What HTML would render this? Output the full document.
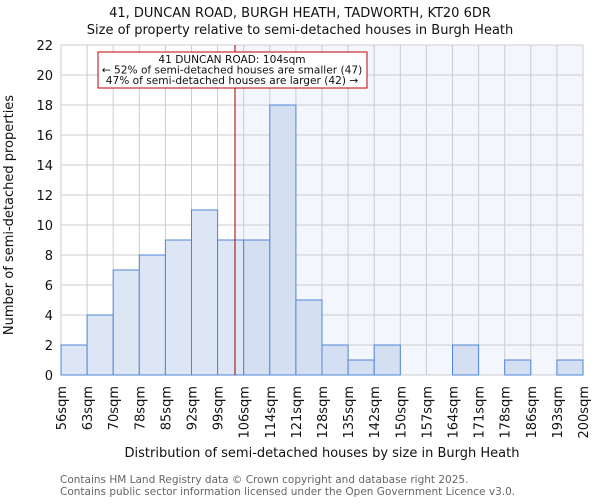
<!DOCTYPE html>
<html><head><meta charset="utf-8"><style>
body{margin:0;background:#fff;font-family:"DejaVu Sans","Liberation Sans",sans-serif}
</style></head><body>
<svg id="c" width="600" height="500" xmlns="http://www.w3.org/2000/svg" font-family="DejaVu Sans, Liberation Sans, sans-serif"></svg>
<script>
const categories=["56sqm","63sqm","70sqm","78sqm","85sqm","92sqm","99sqm","106sqm","114sqm","121sqm","128sqm","135sqm","142sqm","150sqm","157sqm","164sqm","171sqm","178sqm","186sqm","193sqm","200sqm"];
const counts=[2,4,7,8,9,11,9,9,18,5,2,1,2,0,0,2,0,1,0,1];
const yTicks=[0,2,4,6,8,10,12,14,16,18,20,22];
const subjectSize=104;
const minSize=56, maxSize=200;
const X0=61,X1=583,Y0=375,Y1=45,YMAX=22;
const svg=document.getElementById('c');
const NS='http://www.w3.org/2000/svg';
function xBin(i){return X0+(X1-X0)*i/counts.length;}
function xVal(v){return X0+(X1-X0)*(v-minSize)/(maxSize-minSize);}
function y(v){return Y0-(Y0-Y1)*v/YMAX;}
function el(t,a,p){const e=document.createElementNS(NS,t);for(const k in a)e.setAttribute(k,a[k]);(p||svg).appendChild(e);return e;}
const sx=xVal(subjectSize);
let r=el('rect',{x:sx,y:Y1,width:X1-sx,height:Y0-Y1,fill:'#f3f6fd'});


for(let i=0;i<=counts.length;i++){let l=el('line',{x1:xBin(i),x2:xBin(i),y1:Y1,y2:Y0,stroke:'#cccccc','stroke-width':1});

}
yTicks.forEach(t=>{let l=el('line',{x1:X0,x2:X1,y1:y(t),y2:y(t),stroke:'#cccccc','stroke-width':1});


let tx=el('text',{x:X0-8,y:y(t)+5,'text-anchor':'end','font-size':13,fill:'#111'});tx.textContent=t;

});
counts.forEach((c,i)=>{if(c<=0)return;const mid=(xBin(i)+xBin(i+1))/2;
let b=el('rect',{x:xBin(i),y:y(c),width:xBin(i+1)-xBin(i),height:Y0-y(c),fill:mid>sx?'#d4e0f2':'#dce6f4',stroke:'#4f86d6','stroke-width':1});

});
categories.forEach((c,i)=>{const x=xBin(i);let t=el('text',{x:x+5,y:386,'text-anchor':'end','font-size':13,fill:'#111',transform:`rotate(-90 ${x+5} 386)`});t.textContent=c;

});
let ml=el('line',{x1:sx,x2:sx,y1:Y1,y2:Y0,stroke:'#a00000','stroke-width':1});


</script>
<svg width="600" height="500" style="position:absolute;left:0;top:0" font-family="DejaVu Sans, Liberation Sans, sans-serif">
<text x="300" y="17" text-anchor="middle" font-size="13" fill="#111">41, DUNCAN ROAD, BURGH HEATH, TADWORTH, KT20 6DR</text>
<text x="300" y="34" text-anchor="middle" font-size="13" fill="#111">Size of property relative to semi-detached houses in Burgh Heath</text>
<rect x="98" y="52" width="269" height="36" fill="#fff" stroke="#c00000" stroke-width="1"/>
<text x="232" y="63" text-anchor="middle" font-size="10.6" fill="#111">41 DUNCAN ROAD: 104sqm</text>
<text x="232" y="73.5" text-anchor="middle" font-size="10.6" fill="#111">← 52% of semi-detached houses are smaller (47)</text>
<text x="232" y="84" text-anchor="middle" font-size="10.6" fill="#111">47% of semi-detached houses are larger (42) →</text>
<text x="13" y="215" text-anchor="middle" font-size="13" fill="#111" transform="rotate(-90 13 215)">Number of semi-detached properties</text>
<text x="322" y="457" text-anchor="middle" font-size="13" fill="#111">Distribution of semi-detached houses by size in Burgh Heath</text>
<text x="60" y="483" font-size="10.5" fill="#666">Contains HM Land Registry data © Crown copyright and database right 2025.</text>
<text x="60" y="495" font-size="10.5" fill="#666">Contains public sector information licensed under the Open Government Licence v3.0.</text>
</svg>
</body></html>
